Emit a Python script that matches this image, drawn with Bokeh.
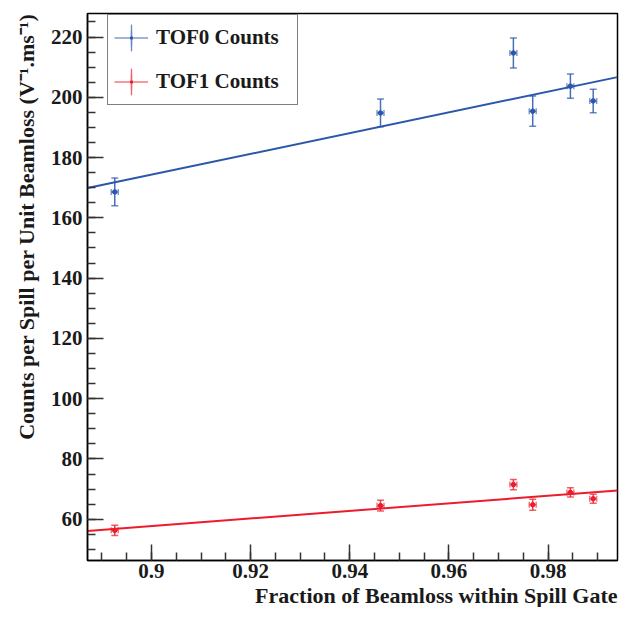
import numpy as np
from bokeh.plotting import figure
from bokeh.models import (ColumnDataSource, Whisker, TeeHead, Legend, LegendItem,
                          Range1d, FixedTicker, Title)
from bokeh.embed import file_html
from bokeh.resources import INLINE

# ---- data ----
frac = [0.8926, 0.9462, 0.9730, 0.9769, 0.9845, 0.9891]
frac_err = [0.0007, 0.0007, 0.0007, 0.0007, 0.0007, 0.0007]
tof0 = [168.6, 194.8, 214.7, 195.4, 203.7, 198.8]
tof0_err = [4.6, 4.6, 5.0, 5.0, 4.0, 3.9]
tof1 = [56.3, 64.5, 71.5, 64.8, 68.9, 66.8]
tof1_err = [1.7, 1.8, 1.7, 1.8, 1.5, 1.5]
tof0_fit = [344.2, -135.44]   # slope, intercept
tof1_fit = [125.9, -55.59]
x_ticks = [0.9, 0.92, 0.94, 0.96, 0.98]
y_ticks = [60, 80, 100, 120, 140, 160, 180, 200, 220]
x_lim = [0.8871, 0.9940]
y_lim = [46.3, 227.8]
x_title = "Fraction of Beamloss within Spill Gate"
y_title = "Counts per Spill per Unit Beamloss (V\u207b\u00b9.ms\u207b\u00b9)"

BLUE = "#2a57ab"
RED = "#ec1c2c"
FONT = "Liberation Serif"

p = figure(width=619, height=607, x_range=Range1d(*x_lim), y_range=Range1d(*y_lim),
           output_backend="svg", toolbar_location=None,
           min_border_left=87, min_border_right=2, min_border_top=13, min_border_bottom=40)
p.xgrid.visible = False
p.ygrid.visible = False
p.outline_line_color = "black"
p.outline_line_width = 1.5
p.background_fill_color = "white"
p.border_fill_color = "white"

p.xaxis.ticker = FixedTicker(ticks=x_ticks, minor_ticks=list(np.round(np.arange(0.885, 0.996, 0.005), 3)))
p.yaxis.ticker = FixedTicker(ticks=y_ticks, minor_ticks=list(range(50, 230, 5)))
for ax in (p.xaxis[0], p.yaxis[0]):
    ax.axis_line_color = "black"
    ax.axis_line_width = 1.5
    ax.major_tick_in = 16
    ax.major_tick_out = 0
    ax.minor_tick_in = 8
    ax.minor_tick_out = 0
    ax.major_tick_line_color = "#333333"
    ax.minor_tick_line_color = "#333333"
    ax.major_tick_line_width = 1.5
    ax.minor_tick_line_width = 1.5
    ax.major_label_text_font = FONT
    ax.major_label_text_font_style = "bold"
    ax.major_label_text_font_size = "21px"
    ax.major_label_text_color = "#1a1a1a"
p.xaxis.major_label_standoff = 3
p.yaxis.major_label_standoff = 5

p.add_layout(Title(text=x_title, align="right", text_font=FONT, text_font_style="bold",
                   text_font_size="22px", text_color="#1a1a1a", standoff=0, offset=0), "below")
p.add_layout(Title(text=y_title, align="right", text_font=FONT, text_font_style="bold",
                   text_font_size="22px", text_color="#1a1a1a", standoff=18, offset=0), "left")


def series(y, yerr, color, fit):
    x = np.array(frac)
    xe = np.array(frac_err)
    y = np.array(y)
    ye = np.array(yerr)
    src = ColumnDataSource(dict(x=x, y=y, lo=y - ye, hi=y + ye, xl=x - xe, xh=x + xe))
    p.add_layout(Whisker(source=src, base="x", lower="lo", upper="hi", dimension="height",
                         line_color=color, line_width=1.5, line_alpha=0.85,
                         upper_head=TeeHead(size=7, line_color=color, line_width=1.5, line_alpha=0.7),
                         lower_head=TeeHead(size=7, line_color=color, line_width=1.5, line_alpha=0.7)))
    p.add_layout(Whisker(source=src, base="y", lower="xl", upper="xh", dimension="width",
                         line_color=color, line_width=1.5, line_alpha=0.6,
                         upper_head=TeeHead(size=6, line_color=color, line_width=1.5, line_alpha=0.6),
                         lower_head=TeeHead(size=6, line_color=color, line_width=1.5, line_alpha=0.6)))
    xs = np.array(x_lim)
    p.line(xs, fit[0] * xs + fit[1], line_color=color, line_width=2)
    # thin vertical stroke under each point (gives the vertical bar in the legend key)
    lv = p.ellipse(x="x", y="y", source=src, width=0.02, height=2,
                   width_units="screen", height_units="screen",
                   fill_alpha=0, line_color=color, line_width=1.5, line_alpha=0.7)
    p.scatter("x", "y", source=src, size=4.5, color=color)
    # legend-only glyphs (hidden in the plot area)
    lh = p.line("x", "y", source=src, line_color=color, line_width=1.5, line_alpha=0.6, visible=False)
    ld = p.scatter("x", "y", source=src, marker="dot", size=14, color=color, visible=False)
    return [lh, lv, ld]


r0 = series(tof0, tof0_err, BLUE, tof0_fit)
r1 = series(tof1, tof1_err, RED, tof1_fit)

leg = Legend(items=[LegendItem(label="TOF0 Counts", renderers=r0, index=0),
                    LegendItem(label="TOF1 Counts", renderers=r1, index=0)],
             location=(20, 455), margin=0, padding=6, spacing=11,
             glyph_width=34, glyph_height=33, label_standoff=8, label_width=135,
             label_text_font=FONT, label_text_font_style="bold",
             label_text_font_size="21px", label_text_color="#1a1a1a",
             border_line_color="black", border_line_width=1.5,
             background_fill_color="white", background_fill_alpha=1.0,
             click_policy="none")
p.add_layout(leg)

open("out.html", "w").write(file_html(p, INLINE))
